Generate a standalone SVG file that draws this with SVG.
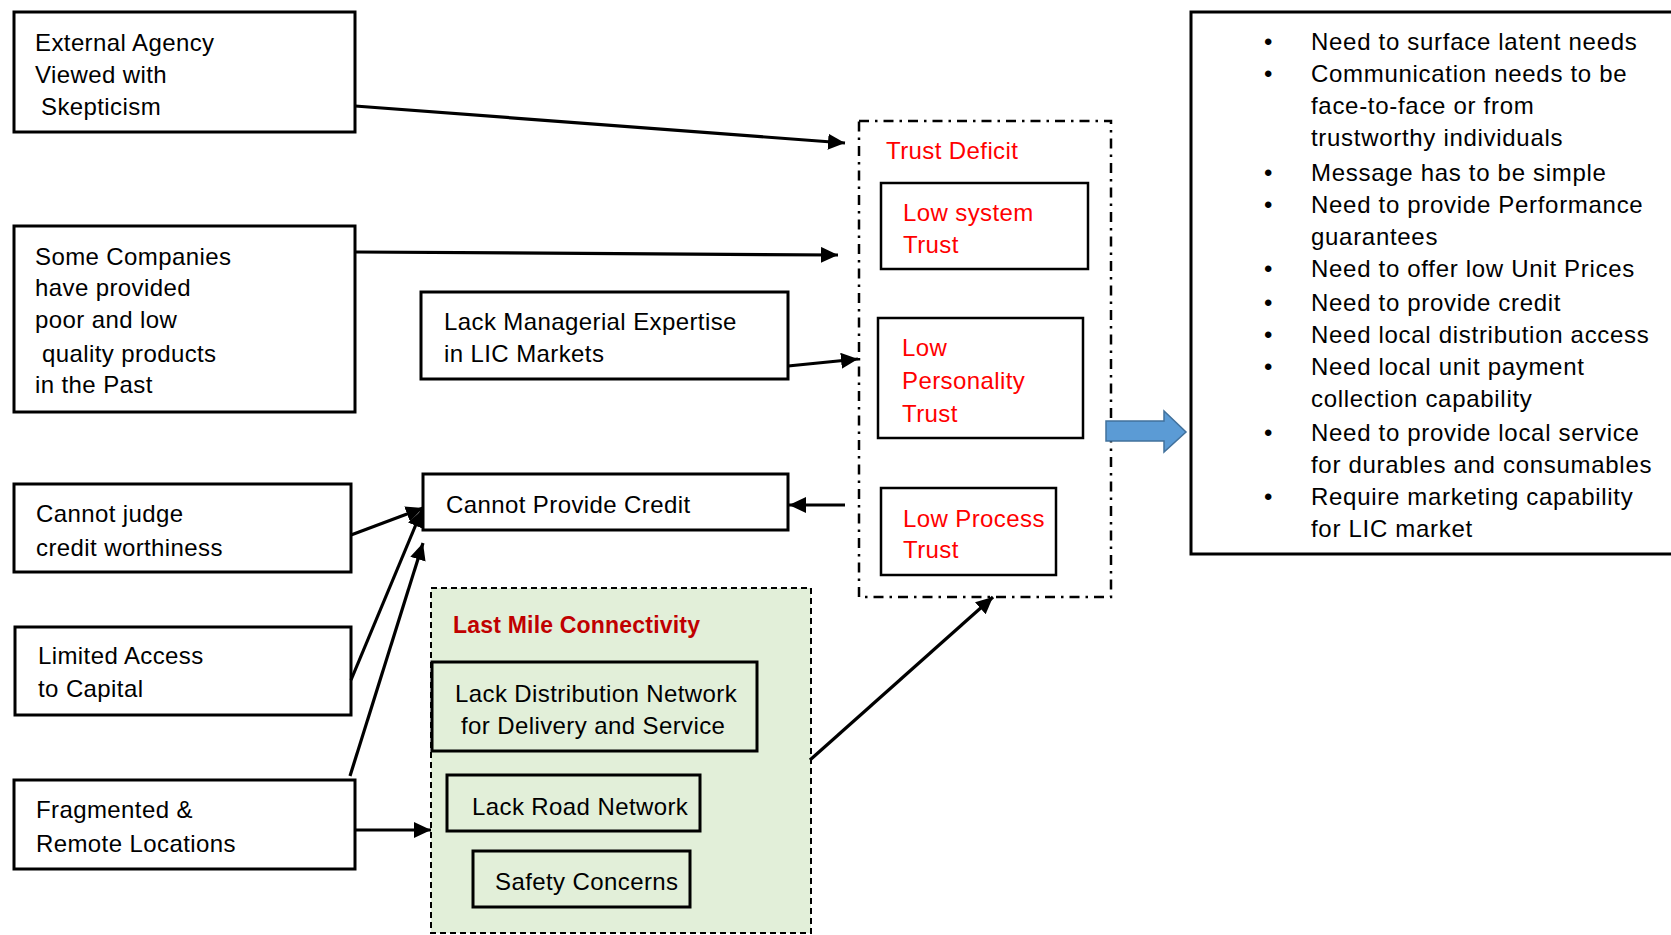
<svg xmlns="http://www.w3.org/2000/svg" width="1671" height="935" viewBox="0 0 1671 935">
  <defs>
    <style>
      text { font-family: "Liberation Sans", Arial, sans-serif; font-size: 24px; fill: #000; letter-spacing: 0.4px; }
      .box { fill: #fff; stroke: #000; stroke-width: 3; }
      .sub { fill: #fff; stroke: #000; stroke-width: 2.5; }
      .gbox { fill: #e2efd9; stroke: #000; stroke-width: 3; }
      .red { fill: #ff0000; }
      .title { fill: #c00000; font-weight: bold; font-size: 23px; letter-spacing: 0.2px; }
      .list text { letter-spacing: 0.7px; }
      .conn { fill: none; stroke: #000; stroke-width: 3.2; marker-end: url(#head); }
    </style>
    <marker id="head" markerUnits="userSpaceOnUse" markerWidth="20" markerHeight="18" refX="17" refY="8" orient="auto">
      <path d="M0,0 L17,8 L0,16 z" fill="#000"/>
    </marker>
  </defs>

  <rect width="1671" height="935" fill="#fff"/>

  <!-- grouping frames -->
  <g id="trust-deficit">
    <rect x="859" y="121" width="252" height="476" fill="none" stroke="#000" stroke-width="2.5" stroke-dasharray="10,6,2.5,6"/>
    <text x="886" y="159" class="red">Trust Deficit</text>
  </g>
  <g id="last-mile">
    <rect x="431" y="588" width="380" height="345" fill="#e2efd9" stroke="#000" stroke-width="2" stroke-dasharray="6,4"/>
    <text x="453" y="633" class="title">Last Mile Connectivity</text>
  </g>

  <!-- left column -->
  <g id="external-agency">
    <rect class="box" x="14" y="12" width="341" height="120"/>
    <text x="35" y="51">External Agency</text>
    <text x="35" y="83">Viewed with</text>
    <text x="41" y="115">Skepticism</text>
  </g>
  <g id="poor-quality">
    <rect class="box" x="14" y="226" width="341" height="186"/>
    <text x="35" y="265">Some Companies</text>
    <text x="35" y="296">have provided</text>
    <text x="35" y="328">poor and low</text>
    <text x="42" y="362">quality products</text>
    <text x="35" y="393">in the Past</text>
  </g>
  <g id="cannot-judge">
    <rect class="box" x="14" y="484" width="337" height="88"/>
    <text x="36" y="522">Cannot judge</text>
    <text x="36" y="556">credit worthiness</text>
  </g>
  <g id="limited-access">
    <rect class="box" x="15" y="627" width="336" height="88"/>
    <text x="38" y="664">Limited Access</text>
    <text x="38" y="697">to Capital</text>
  </g>
  <g id="fragmented">
    <rect class="box" x="14" y="780" width="341" height="89"/>
    <text x="36" y="818">Fragmented &amp;</text>
    <text x="36" y="852">Remote Locations</text>
  </g>

  <!-- middle column -->
  <g id="managerial">
    <rect class="box" x="421" y="292" width="367" height="87"/>
    <text x="444" y="330">Lack Managerial Expertise</text>
    <text x="444" y="362">in LIC Markets</text>
  </g>
  <g id="no-credit">
    <rect class="box" x="423" y="474" width="365" height="56"/>
    <text x="446" y="513">Cannot Provide Credit</text>
  </g>

  <!-- trust deficit members -->
  <g id="low-system">
    <rect class="sub" x="881" y="183" width="207" height="86"/>
    <text x="903" y="221" class="red">Low system</text>
    <text x="903" y="253" class="red">Trust</text>
  </g>
  <g id="low-personality">
    <rect class="sub" x="878" y="318" width="205" height="120"/>
    <text x="902" y="356" class="red">Low</text>
    <text x="902" y="389" class="red">Personality</text>
    <text x="902" y="422" class="red">Trust</text>
  </g>
  <g id="low-process">
    <rect class="sub" x="881" y="488" width="175" height="87"/>
    <text x="903" y="527" class="red">Low Process</text>
    <text x="903" y="558" class="red">Trust</text>
  </g>

  <!-- last mile members -->
  <g id="distribution">
    <rect class="gbox" x="432" y="662" width="325" height="89"/>
    <text x="455" y="702">Lack Distribution Network</text>
    <text x="461" y="734">for Delivery and Service</text>
  </g>
  <g id="road">
    <rect class="gbox" x="447" y="775" width="253" height="56"/>
    <text x="472" y="815">Lack Road Network</text>
  </g>
  <g id="safety">
    <rect class="gbox" x="473" y="851" width="217" height="56"/>
    <text x="495" y="890">Safety Concerns</text>
  </g>

  <!-- requirements list -->
  <g id="requirements" class="list">
    <rect class="box" x="1191" y="12" width="490" height="542"/>
    <g>
      <text x="1264" y="50">•</text>
      <text x="1264" y="82">•</text>
      <text x="1264" y="181">•</text>
      <text x="1264" y="213">•</text>
      <text x="1264" y="277">•</text>
      <text x="1264" y="311">•</text>
      <text x="1264" y="343">•</text>
      <text x="1264" y="375">•</text>
      <text x="1264" y="441">•</text>
      <text x="1264" y="505">•</text>
    </g>
    <text x="1311" y="50">Need to surface latent needs</text>
    <text x="1311" y="82">Communication needs to be</text>
    <text x="1311" y="114">face-to-face or from</text>
    <text x="1311" y="146">trustworthy individuals</text>
    <text x="1311" y="181">Message has to be simple</text>
    <text x="1311" y="213">Need  to provide Performance</text>
    <text x="1311" y="245">guarantees</text>
    <text x="1311" y="277">Need to offer low Unit Prices</text>
    <text x="1311" y="311">Need to provide credit</text>
    <text x="1311" y="343">Need local distribution access</text>
    <text x="1311" y="375">Need local unit payment</text>
    <text x="1311" y="407">collection capability</text>
    <text x="1311" y="441">Need to provide local service</text>
    <text x="1311" y="473">for durables and consumables</text>
    <text x="1311" y="505">Require marketing capability</text>
    <text x="1311" y="537">for LIC market</text>
  </g>

  <!-- connectors -->
  <g id="connectors">
    <line class="conn" x1="355" y1="106" x2="845" y2="143"/>
    <line class="conn" x1="355" y1="252" x2="838" y2="255"/>
    <line class="conn" x1="788" y1="366" x2="858" y2="359"/>
    <line class="conn" x1="845" y1="505" x2="789" y2="505"/>
    <line class="conn" x1="351" y1="535" x2="423" y2="508"/>
    <line class="conn" x1="351" y1="680" x2="422" y2="510"/>
    <line class="conn" x1="350" y1="776" x2="423" y2="543"/>
    <line class="conn" x1="355" y1="830" x2="431" y2="830"/>
    <line class="conn" x1="810" y1="760" x2="993" y2="597"/>
    <polygon points="1106,421 1164,421 1164,411 1186,432 1164,452 1164,441 1106,441" fill="#5b9bd5" stroke="#41719c" stroke-width="1.5"/>
  </g>
</svg>
